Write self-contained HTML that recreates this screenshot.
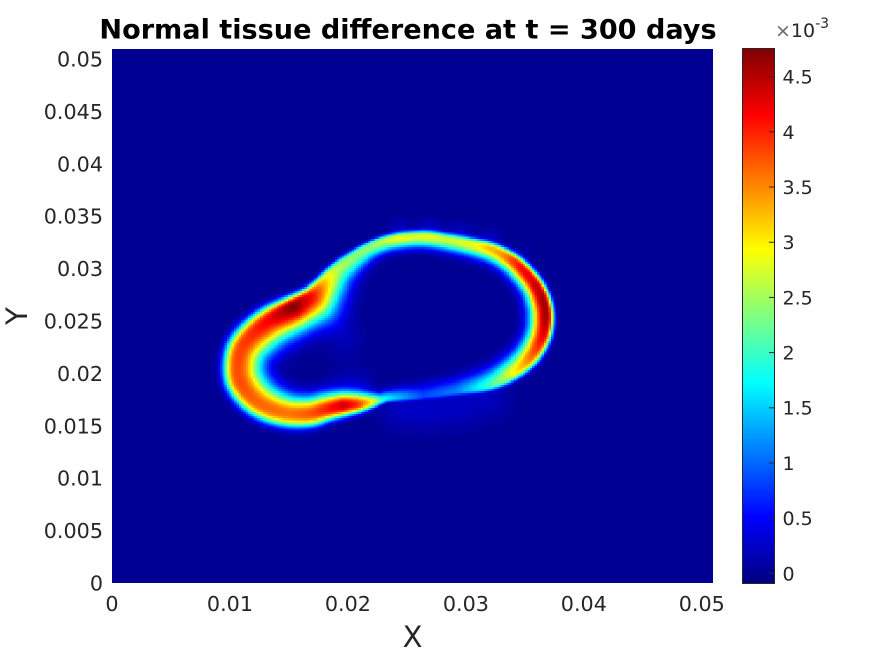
<!DOCTYPE html>
<html lang="en">
<head>
<meta charset="utf-8">
<title>Normal tissue difference at t = 300 days</title>
<style>
html,body{margin:0;padding:0;background:#fff;}
svg{display:block;font-family:"DejaVu Sans","Liberation Sans",sans-serif;}
</style>
</head>
<body>
<svg id="fig" xmlns="http://www.w3.org/2000/svg" width="891" height="656" viewBox="0 0 891 656">
  <rect x="0" y="0" width="891" height="656" fill="#fff"/>
  <g id="cells" shape-rendering="crispEdges"></g>
  <g id="xticks" fill="#262626" font-size="20.7" text-anchor="middle"></g>
  <g id="yticks" fill="#262626" font-size="20.7" text-anchor="end"></g>
  <text x="408" y="38.5" font-size="27.1" font-weight="bold" text-anchor="middle" fill="#000">Normal tissue difference at t = 300 days</text>
  <text x="412.5" y="647" font-size="29" text-anchor="middle" fill="#262626">X</text>
  <text transform="translate(27 316) rotate(-90)" font-size="29" text-anchor="middle" fill="#262626">Y</text>
  <g id="cbar" shape-rendering="crispEdges"></g>
  <g id="cticks" fill="#262626" font-size="19"></g>
  <text x="775" y="37" font-size="19" fill="#262626"><tspan fill="#666">×</tspan>10<tspan font-size="14" dy="-9">-3</tspan></text>
</svg>
<script>
/* The heat field is reconstructed from values read off the picture along the
   ridge (stations below), not from a cell-by-cell reading of the original grid.
   Coordinates and widths are in units of 1e-3 data units; peaks in 1e-3 colour units. */
const xTickValues = [0, 0.01, 0.02, 0.03, 0.04, 0.05];
const xTickLabels = ["0", "0.01", "0.02", "0.03", "0.04", "0.05"];
const yTickValues = [0, 0.005, 0.01, 0.015, 0.02, 0.025, 0.03, 0.035, 0.04, 0.045, 0.05];
const yTickLabels = ["0", "0.005", "0.01", "0.015", "0.02", "0.025", "0.03", "0.035", "0.04", "0.045", "0.05"];
const colorTickValues = [0, 0.5, 1, 1.5, 2, 2.5, 3, 3.5, 4, 4.5];
const colorTickLabels = ["0", "0.5", "1", "1.5", "2", "2.5", "3", "3.5", "4", "4.5"];
const colorDomain = [-0.09, 4.757];
const xDomain = [0, 0.05095];
const yDomain = [0, 0.05095];

const ridgeX = [23.57,22.72,21.87,20.77,19.58,18.06,16.79,15.09,13.39,11.95,10.94,10.68,10.94,11.87,13.39,15.34,16.79,17.80,18.90,20.43,21.87,23.57,26.36,29.25,32.04,33.74,34.84,35.86,36.54,36.79,36.45,35.44,33.99,32.04,29.25,26.36];
const ridgeY = [17.65,17.46,17.27,17.08,16.98,16.60,16.22,16.22,16.70,17.65,19.08,20.52,22.23,23.66,25.10,26.34,27.39,28.53,29.87,31.11,32.06,32.73,33.02,32.54,31.87,30.92,29.87,28.53,27.00,25.29,23.38,21.47,20.04,18.89,18.32,17.84];
const ridgePeak = [1.5,2.0,3.0,3.9,4.35,4.0,3.75,3.6,3.65,3.7,3.8,3.8,3.85,3.95,4.2,4.75,4.1,3.3,2.6,2.4,2.4,2.7,2.7,2.6,3.1,3.7,4.1,4.4,4.6,4.6,4.2,3.6,2.9,1.9,1.0,0.7];
const ridgeOuterWidth = [0.32,0.38,0.57,0.76,0.95,1.04,1.14,1.19,1.23,1.23,1.23,1.23,1.23,1.23,1.14,0.95,0.76,0.66,0.57,0.53,0.47,0.47,0.53,0.57,0.57,0.62,0.66,0.66,0.66,0.66,0.72,0.72,0.62,0.47,0.38,0.28];
const ridgeInnerWidth = [0.63,0.52,0.73,0.95,1.06,1.26,1.36,1.47,1.68,1.9,2.05,2.05,2.05,2.05,2.05,2.0,2.1,1.9,1.6,1.2,0.94,0.84,0.84,0.89,1.0,1.05,1.1,1.15,1.26,1.31,1.26,1.26,1.26,1.26,1.05,0.95];

const hazeX = [24.41,26.96,29.50,32.04,24.41,26.96,29.50,32.04,34.59,21.02,19.33,18.65,19.75];
const hazeY = [16.51,16.51,16.70,17.65,33.50,33.70,33.30,32.60,30.90,18.80,18.89,25.57,23.19];
const hazePeak = [0.2,0.2,0.2,0.18,0.22,0.22,0.22,0.22,0.15,0.2,0.15,0.25,0.15];
const hazeWidth = [1.7,1.7,1.7,1.7,1.0,1.0,1.0,1.0,1.0,1.2,1.2,1.5,1.5];

const NS = "http://www.w3.org/2000/svg";
const plot = {left:112, right:713, top:49, bottom:583};
const cbar = {left:743, right:774, top:48, bottom:583};
const GRID = 256;

function sx(v){ return plot.left + (v - xDomain[0]) / (xDomain[1] - xDomain[0]) * (plot.right - plot.left); }
function sy(v){ return plot.bottom - (v - yDomain[0]) / (yDomain[1] - yDomain[0]) * (plot.bottom - plot.top); }
function sc(v){ return 583.3 - (v - colorDomain[0]) / (colorDomain[1] - colorDomain[0]) * 535; }
function widthPx(w){ return w * 1e-3 / (xDomain[1] - xDomain[0]) * (plot.right - plot.left); }
function clamp(v){ return Math.max(0, Math.min(1, v)); }
function jet(v){
  const t = clamp((v - colorDomain[0]) / (colorDomain[1] - colorDomain[0]));
  const r = clamp(1.5 - Math.abs(4*t - 3));
  const g = clamp(1.5 - Math.abs(4*t - 2));
  const b = clamp(1.5 - Math.abs(4*t - 1));
  return "rgb(" + Math.round(r*255) + "," + Math.round(g*255) + "," + Math.round(b*255) + ")";
}

function buildRidge(){
  const n = ridgeX.length, out = [], sub = 4;
  const px = ridgeX.map(v => sx(v*1e-3));
  const py = ridgeY.map(v => sy(v*1e-3));
  const cr = (a,b,c,d,t) => 0.5*((2*b)+(c-a)*t+(2*a-5*b+4*c-d)*t*t+(3*b-a-3*c+d)*t*t*t);
  const lin = (a,b,t) => a+(b-a)*t;
  for(let i=0;i<n;i++){
    const i0=(i-1+n)%n, i2=(i+1)%n, i3=(i+2)%n;
    for(let k=0;k<sub;k++){
      const t=k/sub;
      out.push({
        x:cr(px[i0],px[i],px[i2],px[i3],t),
        y:cr(py[i0],py[i],py[i2],py[i3],t),
        p:lin(ridgePeak[i],ridgePeak[i2],t),
        wo:widthPx(lin(ridgeOuterWidth[i],ridgeOuterWidth[i2],t)),
        wi:widthPx(lin(ridgeInnerWidth[i],ridgeInnerWidth[i2],t))
      });
    }
  }
  return out;
}

function fieldAt(x,y,pts){
  let best=1e12, side=1;
  const m=pts.length, ds=new Array(m), ps=new Array(m), wos=new Array(m), wis=new Array(m);
  for(let i=0;i<m;i++){
    const a=pts[i], b=pts[(i+1)%m];
    const dx=b.x-a.x, dy=b.y-a.y, l2=dx*dx+dy*dy||1e-9;
    let t=((x-a.x)*dx+(y-a.y)*dy)/l2; t=clamp(t);
    const qx=a.x+dx*t, qy=a.y+dy*t, d2=(x-qx)*(x-qx)+(y-qy)*(y-qy);
    ds[i]=Math.sqrt(d2);
    ps[i]=a.p+(b.p-a.p)*t;
    wos[i]=a.wo+(b.wo-a.wo)*t;
    wis[i]=a.wi+(b.wi-a.wi)*t;
    if(d2<best){
      best=d2;
      side=((x-qx)*dy-(y-qy)*dx)>=0?1:-1;
    }
  }
  let v=0;
  for(let i=0;i<m;i++){
    const c = side>0 ? ps[i]*Math.exp(-Math.pow(ds[i]/wos[i],3)) : ps[i]*Math.exp(-Math.pow(ds[i]/wis[i],2.2));
    if(c>v) v=c;
  }
  for(let h=0;h<hazeX.length;h++){
    const hx=sx(hazeX[h]*1e-3), hy=sy(hazeY[h]*1e-3), w=widthPx(hazeWidth[h]);
    const q=((x-hx)*(x-hx)+(y-hy)*(y-hy))/(w*w);
    if(q<9) v+=hazePeak[h]*Math.exp(-q);
  }
  return v;
}

function drawHeatmap(){
  const g=document.getElementById("cells");
  const bg=document.createElementNS(NS,"rect");
  
  
  bg.setAttribute("x",plot.left);
  bg.setAttribute("y",plot.top);
  bg.setAttribute("width",plot.right-plot.left);
  bg.setAttribute("height",plot.bottom-plot.top);
  bg.setAttribute("fill",jet(0));
  g.appendChild(bg);
  const pts=buildRidge();
  let minX=1e9,maxX=-1e9,minY=1e9,maxY=-1e9;
  pts.forEach(p=>{minX=Math.min(minX,p.x);maxX=Math.max(maxX,p.x);minY=Math.min(minY,p.y);maxY=Math.max(maxY,p.y);});
  const pad=60, cw=(plot.right-plot.left)/GRID, ch=(plot.bottom-plot.top)/GRID;
  const frag=document.createDocumentFragment();
  for(let j=0;j<GRID;j++){
    const y0=plot.top+j*ch, cy=y0+ch/2;
    if(cy<minY-pad||cy>maxY+pad) continue;
    for(let i=0;i<GRID;i++){
      const x0=plot.left+i*cw, cx=x0+cw/2;
      if(cx<minX-pad||cx>maxX+pad) continue;
      const v=fieldAt(cx,cy,pts);
      if(v<0.03) continue;
      const r=document.createElementNS(NS,"rect");
      
      
      r.setAttribute("x",x0.toFixed(2));
      r.setAttribute("y",y0.toFixed(2));
      r.setAttribute("width",(cw+0.6).toFixed(2));
      r.setAttribute("height",(ch+0.6).toFixed(2));
      r.setAttribute("fill",jet(v));
      frag.appendChild(r);
    }
  }
  g.appendChild(frag);
}

function drawAxes(){
  const xg=document.getElementById("xticks");
  xTickValues.forEach((v,i)=>{
    const t=document.createElementNS(NS,"text");
    
    
    t.setAttribute("x",sx(v));
    t.setAttribute("y",611);
    t.textContent=xTickLabels[i];
    xg.appendChild(t);
  });
  const yg=document.getElementById("yticks");
  yTickValues.forEach((v,i)=>{
    const t=document.createElementNS(NS,"text");
    
    
    t.setAttribute("x",103);
    t.setAttribute("y",sy(v)+7.5);
    t.textContent=yTickLabels[i];
    yg.appendChild(t);
  });
}

function drawColorbar(){
  const g=document.getElementById("cbar");
  const levels=256, h=(cbar.bottom-cbar.top)/levels;
  for(let k=0;k<levels;k++){
    const v=colorDomain[0]+(k+0.5)/levels*(colorDomain[1]-colorDomain[0]);
    const r=document.createElementNS(NS,"rect");
    
    
    r.setAttribute("x",cbar.left);
    r.setAttribute("y",(cbar.bottom-(k+1)*h).toFixed(2));
    r.setAttribute("width",cbar.right-cbar.left);
    r.setAttribute("height",(h+0.6).toFixed(2));
    r.setAttribute("fill",jet(v));
    g.appendChild(r);
  }
  const box=document.createElementNS(NS,"rect");
  
  
  box.setAttribute("x",cbar.left-0.5);
  box.setAttribute("y",cbar.top+0.5);
  box.setAttribute("width",cbar.right-cbar.left+1);
  box.setAttribute("height",cbar.bottom-cbar.top);
  box.setAttribute("fill","none");
  box.setAttribute("stroke","#262626");
  box.setAttribute("stroke-width","1");
  g.appendChild(box);
  const tg=document.getElementById("cticks");
  colorTickValues.forEach((v,i)=>{
    const y=sc(v);
    const l=document.createElementNS(NS,"line");
    
    
    l.setAttribute("x1",769);
    l.setAttribute("x2",774);
    l.setAttribute("y1",y);
    l.setAttribute("y2",y);
    l.setAttribute("stroke","#262626");
    l.setAttribute("stroke-width","1");
    tg.appendChild(l);
    const t=document.createElementNS(NS,"text");
    
    
    t.setAttribute("x",782.5);
    t.setAttribute("y",y+6.9);
    t.textContent=colorTickLabels[i];
    tg.appendChild(t);
  });
}

drawHeatmap();
drawAxes();
drawColorbar();
</script>
</body>
</html>
